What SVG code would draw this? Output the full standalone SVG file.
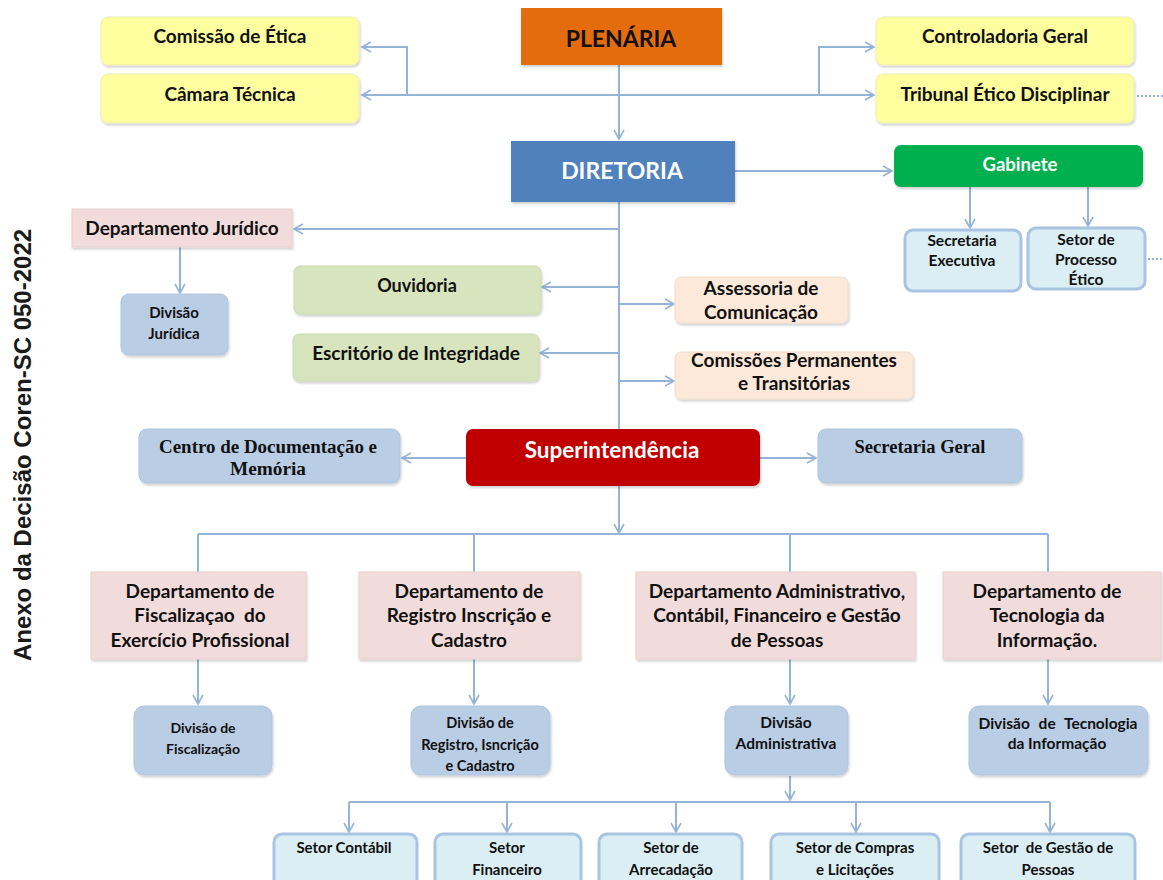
<svg xmlns="http://www.w3.org/2000/svg" width="1163" height="880" viewBox="0 0 1163 880">
<defs>
<marker id="ah" markerUnits="userSpaceOnUse" markerWidth="12" markerHeight="12" refX="10" refY="6" orient="auto">
<path d="M1,1 L10,6 L1,11" fill="none" stroke="#95B3D7" stroke-width="1.6"/>
</marker>
<filter id="sh" x="-5%" y="-5%" width="115%" height="125%">
<feDropShadow dx="1" dy="2" stdDeviation="1.2" flood-color="#000" flood-opacity="0.18"/>
</filter>
</defs>
<style>
text{font-family:Lato,"Open Sans","Liberation Sans",sans-serif;font-weight:bold;fill:#111;text-anchor:middle}
.w{fill:#fff}
.s16{font-size:19px}
.s13{font-size:15.5px}
.s15{font-size:15px}
.yel{fill:#FEFE9E;stroke:#EDEDB5;stroke-width:1}
.pink{fill:#F2DCDB;stroke:#E8CFCE;stroke-width:1}
.grn{fill:#D7E4BD;stroke:#CBD9AE;stroke-width:1}
.peach{fill:#FDE9D9;stroke:#F2DCC9;stroke-width:1}
.blu{fill:#B9CDE5;stroke:#AFC4DF;stroke-width:1}
.cyan{fill:#DBEEF4;stroke:#A9C3E2;stroke-width:3}
.ser{font-family:"Liberation Serif","DejaVu Serif",serif;font-size:18px}
.con path{fill:none;stroke:#95B3D7;stroke-width:2}
.dot{fill:none;stroke:#4F81BD;stroke-width:2;stroke-dasharray:2 2}
</style>

<text x="31" y="445" transform="rotate(-90 31 445)" style="font-family:'Liberation Sans',Arial,sans-serif;font-size:24px;fill:#1a1a1a">Anexo da Decisão Coren-SC 050-2022</text>

<g class="con">
<path d="M619,65 V139" marker-end="url(#ah)"/>
<path d="M619,95 H362" marker-end="url(#ah)"/>
<path d="M407,95 V47 H362" marker-end="url(#ah)"/>
<path d="M619,95 H874" marker-end="url(#ah)"/>
<path d="M819,95 V47 H874" marker-end="url(#ah)"/>
<path d="M735,171 H892" marker-end="url(#ah)"/>
<path d="M970,187 V228" marker-end="url(#ah)"/>
<path d="M1088,187 V226" marker-end="url(#ah)"/>
<path d="M619,202 V429"/>
<path d="M619,229 H294" marker-end="url(#ah)"/>
<path d="M619,287 H542" marker-end="url(#ah)"/>
<path d="M619,353 H540" marker-end="url(#ah)"/>
<path d="M619,304 H674" marker-end="url(#ah)"/>
<path d="M619,381 H674" marker-end="url(#ah)"/>
<path d="M180,247 V293" marker-end="url(#ah)"/>
<path d="M466,458 H402" marker-end="url(#ah)"/>
<path d="M760,458 H816" marker-end="url(#ah)"/>
<path d="M619,486 V533" marker-end="url(#ah)"/>
<path d="M198,534 H1048"/>
<path d="M198,534 V572 M474,534 V572 M790,534 V572 M1048,534 V572"/>
<path d="M198,659 V704" marker-end="url(#ah)"/>
<path d="M474,659 V704" marker-end="url(#ah)"/>
<path d="M790,659 V704" marker-end="url(#ah)"/>
<path d="M1048,659 V704" marker-end="url(#ah)"/>
<path d="M790,776 V800" marker-end="url(#ah)"/>
<path d="M349,802 H1050"/>
<path d="M349,802 V832" marker-end="url(#ah)"/>
<path d="M507,802 V832" marker-end="url(#ah)"/>
<path d="M676,802 V832" marker-end="url(#ah)"/>
<path d="M856,802 V832" marker-end="url(#ah)"/>
<path d="M1050,802 V832" marker-end="url(#ah)"/>
<path class="dot" d="M1137,96 H1163"/>
<path class="dot" d="M1148,259 H1163"/>
</g>

<g id="comissao-etica"><rect class="yel" x="101" y="17" width="258" height="48" rx="7" filter="url(#sh)"/><text class="s16" x="230" y="43">Comissão de Ética</text></g>
<g id="camara-tecnica"><rect class="yel" x="101" y="74" width="258" height="49" rx="7" filter="url(#sh)"/><text class="s16" x="230" y="101">Câmara Técnica</text></g>
<g id="plenaria"><rect x="521" y="8" width="201" height="57" fill="#E46C0A" filter="url(#sh)"/><text x="621" y="47" style="font-size:23px">PLENÁRIA</text></g>
<g id="controladoria"><rect class="yel" x="876" y="17" width="258" height="48" rx="7" filter="url(#sh)"/><text class="s16" x="1005" y="43">Controladoria Geral</text></g>
<g id="tribunal"><rect class="yel" x="876" y="74" width="258" height="49" rx="7" filter="url(#sh)"/><text class="s16" x="1005" y="101">Tribunal Ético Disciplinar</text></g>

<g id="diretoria"><rect x="511" y="141" width="224" height="61" fill="#4F81BD" filter="url(#sh)"/><text class="w" x="622" y="179" style="font-size:23px">DIRETORIA</text></g>
<g id="gabinete"><rect x="894" y="145" width="249" height="42" rx="7" fill="#00B050" filter="url(#sh)"/><text class="w" x="1020" y="171" style="font-size:18.5px">Gabinete</text></g>
<g id="secretaria-executiva"><rect class="cyan" x="905" y="230" width="116" height="61" rx="8"/><text class="s13" x="962" y="246">Secretaria</text><text class="s13" x="962" y="266">Executiva</text></g>
<g id="setor-processo-etico"><rect class="cyan" x="1028" y="228" width="117" height="61" rx="8"/><text class="s13" x="1086" y="245">Setor de</text><text class="s13" x="1086" y="265">Processo</text><text class="s13" x="1086" y="285">Ético</text></g>

<g id="departamento-juridico"><rect class="pink" x="72" y="209" width="220" height="38" filter="url(#sh)"/><text class="s16" x="182" y="235">Departamento Jurídico</text></g>
<g id="divisao-juridica"><rect class="blu" x="121" y="294" width="107" height="61" rx="8" filter="url(#sh)"/><text class="s15" x="174" y="318">Divisão</text><text class="s15" x="174" y="339">Jurídica</text></g>
<g id="ouvidoria"><rect class="grn" x="294" y="266" width="247" height="48" rx="6" filter="url(#sh)"/><text class="s16" x="417" y="292" style="font-size:18px">Ouvidoria</text></g>
<g id="escritorio-integridade"><rect class="grn" x="293" y="334" width="246" height="47" rx="6" filter="url(#sh)"/><text class="s16" x="416" y="360">Escritório de Integridade</text></g>
<g id="assessoria-comunicacao"><rect class="peach" x="675" y="277" width="173" height="46" rx="6" filter="url(#sh)"/><text class="s16" x="761" y="295">Assessoria de</text><text class="s16" x="761" y="319">Comunicação</text></g>
<g id="comissoes-permanentes"><rect class="peach" x="675" y="352" width="238" height="47" rx="6" filter="url(#sh)"/><text class="s16" x="794" y="367">Comissões Permanentes</text><text class="s16" x="794" y="390">e Transitórias</text></g>

<g id="superintendencia"><rect x="466" y="429" width="294" height="57" rx="7" fill="#C00000" filter="url(#sh)"/><text class="w" x="612" y="458" style="font-size:22.5px">Superintendência</text></g>
<g id="centro-documentacao"><rect class="blu" x="139" y="429" width="261" height="54" rx="8" filter="url(#sh)"/><text class="ser" x="268" y="453" textLength="218" lengthAdjust="spacingAndGlyphs">Centro de Documentação e</text><text class="ser" x="268" y="475" textLength="76" lengthAdjust="spacingAndGlyphs">Memória</text></g>
<g id="secretaria-geral"><rect class="blu" x="818" y="429" width="204" height="54" rx="8" filter="url(#sh)"/><text class="ser" x="920" y="453" textLength="131" lengthAdjust="spacingAndGlyphs">Secretaria Geral</text></g>

<g id="dept-fiscalizacao"><rect class="pink" x="91" y="572" width="215" height="87" filter="url(#sh)"/><text class="s16" x="200" y="598">Departamento de</text><text class="s16" x="200" y="622" xml:space="preserve">Fiscalizaçao  do</text><text class="s16" x="200" y="647">Exercício Profissional</text></g>
<g id="dept-registro"><rect class="pink" x="359" y="572" width="221" height="87" filter="url(#sh)"/><text class="s16" x="469" y="598">Departamento de</text><text class="s16" x="469" y="622">Registro Inscrição e</text><text class="s16" x="469" y="647">Cadastro</text></g>
<g id="dept-administrativo"><rect class="pink" x="636" y="572" width="279" height="87" filter="url(#sh)"/><text class="s16" x="777" y="598">Departamento Administrativo,</text><text class="s16" x="777" y="622">Contábil, Financeiro e Gestão</text><text class="s16" x="777" y="647">de Pessoas</text></g>
<g id="dept-tecnologia"><rect class="pink" x="943" y="572" width="218" height="87" filter="url(#sh)"/><text class="s16" x="1047" y="598">Departamento de</text><text class="s16" x="1047" y="622">Tecnologia da</text><text class="s16" x="1047" y="647">Informação.</text></g>

<g id="div-fiscalizacao"><rect class="blu" x="134" y="706" width="138" height="69" rx="10" filter="url(#sh)"/><text x="203" y="733" style="font-size:14px">Divisão de</text><text x="203" y="754" style="font-size:14px">Fiscalização</text></g>
<g id="div-registro"><rect class="blu" x="411" y="706" width="139" height="69" rx="10" filter="url(#sh)"/><text x="480" y="728" style="font-size:14.5px">Divisão de</text><text x="480" y="750" style="font-size:14.5px">Registro, Isncrição</text><text x="480" y="771" style="font-size:14.5px">e Cadastro</text></g>
<g id="div-administrativa"><rect class="blu" x="725" y="706" width="123" height="69" rx="10" filter="url(#sh)"/><text class="s13" x="786" y="728">Divisão</text><text class="s13" x="786" y="749">Administrativa</text></g>
<g id="div-tecnologia"><rect class="blu" x="969" y="706" width="179" height="69" rx="10" filter="url(#sh)"/><text class="s13" x="1058" y="729" style="word-spacing:5px">Divisão de Tecnologia</text><text class="s13" x="1057" y="749">da Informação</text></g>

<g id="setor-contabil"><rect class="cyan" x="274" y="834" width="143" height="60" rx="8"/><text class="s15" x="344" y="853">Setor Contábil</text></g>
<g id="setor-financeiro"><rect class="cyan" x="435" y="834" width="146" height="60" rx="8"/><text class="s15" x="507" y="853">Setor</text><text class="s15" x="507" y="875">Financeiro</text></g>
<g id="setor-arrecadacao"><rect class="cyan" x="599" y="834" width="143" height="60" rx="8"/><text class="s15" x="671" y="853">Setor de</text><text class="s15" x="671" y="875">Arrecadação</text></g>
<g id="setor-compras"><rect class="cyan" x="771" y="834" width="168" height="60" rx="8"/><text class="s15" x="855" y="853">Setor de Compras</text><text class="s15" x="855" y="875">e Licitações</text></g>
<g id="setor-gestao-pessoas"><rect class="cyan" x="961" y="834" width="174" height="60" rx="8"/><text class="s15" x="1048" y="853" xml:space="preserve">Setor  de Gestão de</text><text class="s15" x="1048" y="875">Pessoas</text></g>
</svg>
